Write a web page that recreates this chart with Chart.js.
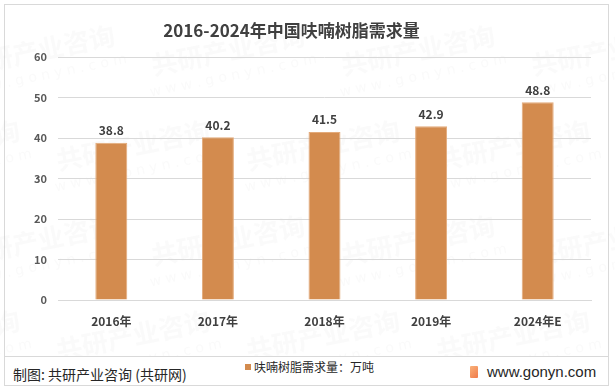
<!DOCTYPE html>
<html>
<head>
<meta charset="utf-8">
<script src="https://cdn.jsdelivr.net/npm/chart.js@4/dist/chart.umd.min.js"></script>
<style>
  html, body { margin: 0; padding: 0; background: #fff; }
  body { width: 615px; height: 390px; position: relative; overflow: hidden;
    font-family: "Microsoft YaHei", "Noto Sans CJK SC", sans-serif; }
  .frame { position: absolute; left: 4px; top: 4px; width: 603px; height: 380px; border: 1px solid #d9d9d9; }
  .divider { position: absolute; left: 4px; top: 356px; width: 604px; height: 1px; background: #d9d9d9; }
  #chartWrap { position: absolute; left: 0; top: 0; width: 615px; height: 356px; }
  .title { position: absolute; left: 0; width: 583px; top: 17px; text-align: center;
    font-size: 17px; font-weight: bold; color: #404040; white-space: nowrap; }
  .source { position: absolute; left: 13px; top: 364px; font-size: 14px; color: #262626; }
  .legend { position: absolute; left: 245px; top: 358px; font-size: 12px; color: #262626; }
  .legend i { display: inline-block; width: 6px; height: 6px; background: #d38b4e; margin-right: 3px; vertical-align: 2px; }
  .site { position: absolute; left: 470px; top: 363px; font-size: 15px; color: #262626; font-family: Arial, "Liberation Sans", sans-serif; }
  .site b { display: inline-block; width: 8px; height: 12px; margin-right: 9px; vertical-align: -1px;
    background: linear-gradient(135deg, #f9b27a, #f07a4a); border-radius: 1px; }
</style>
</head>
<body>
<div class="frame"></div>
<div class="divider"></div>
<div id="chartWrap"><canvas id="chart"></canvas></div>
<div class="title">2016-2024年中国呋喃树脂需求量</div>
<div class="source">制图: 共研产业咨询 (共研网)</div>
<div class="legend"><i></i>呋喃树脂需求量：万吨</div>
<div class="site"><b></b>www.gonyn.com</div>
<script>
// chart data
const categories = ['2016年', '2017年', '2018年', '2019年', '2024年E'];
const demand = [38.8, 40.2, 41.5, 42.9, 48.8];
const yTicks = [0, 10, 20, 30, 40, 50, 60];

const barColor = '#d38b4e';
const textColor = '#404040';

// faint tiled watermark behind the plot
const watermarkPlugin = {
  id: 'watermark',
  beforeDraw: (chart) => {
    const ctx = chart.ctx;
    ctx.save();
    ctx.fillStyle = 'rgba(190,190,190,0.07)';
    ctx.textAlign = 'center';
    for (let row = 0; row < 4; row++) {
      for (let col = 0; col < 4; col++) {
        const x = 40 + col * 190 - (row % 2) * 95;
        const y = 60 + row * 95;
        ctx.save();
        ctx.translate(x, y);
        ctx.rotate(-0.2);
        ctx.font = 'bold 26px "Noto Sans CJK SC"';
        ctx.fillText('共研产业咨询', 0, 0);
        ctx.font = '14px "DejaVu Sans"';
        ctx.fillText('w w w . g o n y n . c o m', 0, 20);
        ctx.restore();
      }
    }
    ctx.restore();
  }
};

// value labels above each bar
const barLabelPlugin = {
  id: 'barLabels',
  afterDatasetsDraw: (chart) => {
    const ctx = chart.ctx;
    const meta = chart.getDatasetMeta(0);
    ctx.save();
    ctx.fillStyle = textColor;
    ctx.font = 'bold 12px "Microsoft YaHei", "Noto Sans CJK SC"';
    ctx.textAlign = 'center';
    ctx.textBaseline = 'middle';
    meta.data.forEach((bar, i) => {
      ctx.fillText(demand[i].toFixed(1), bar.x, bar.y - 12);
    });
    ctx.restore();
  }
};

new Chart(document.getElementById('chart'), {
  type: 'bar',
  data: {
    labels: categories,
    datasets: [{
      label: '呋喃树脂需求量：万吨',
      data: demand,
      backgroundColor: barColor,
      borderColor: '#e3aa7a',
      borderWidth: 1,
      categoryPercentage: 1.0,
      barPercentage: 0.3
    }]
  },
  options: {
    responsive: true,
    maintainAspectRatio: false,
    animation: false,
    layout: {
      padding: { top: 57, right: 24, bottom: 0, left: 0 }
    },
    plugins: {
      legend: { display: false },
      title: { display: false },
      tooltip: { enabled: false }
    },
    scales: {
      x: {
        grid: { display: false },
        border: { color: '#d9d9d9' },
        ticks: {
          color: textColor,
          padding: 6,
          font: { size: 12, family: '"Microsoft YaHei", "Noto Sans CJK SC"', weight: 'bold' }
        },
        afterFit: (scale) => { scale.height = 56; }
      },
      y: {
        min: 0,
        max: 60,
        afterBuildTicks: (scale) => { scale.ticks = yTicks.map(v => ({ value: v })); },
        grid: { color: '#d9d9d9', drawTicks: false },
        border: { display: false },
        ticks: {
          color: '#595959',
          padding: 11,
          font: { size: 11, family: '"Microsoft YaHei", "Noto Sans CJK SC"', weight: 'bold' }
        },
        afterFit: (scale) => { scale.width = 58; }
      }
    }
  },
  plugins: [watermarkPlugin, barLabelPlugin]
});
</script>
</body>
</html>
